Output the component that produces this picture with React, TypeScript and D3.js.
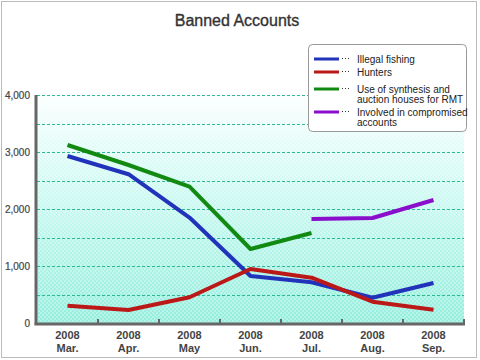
import * as d3 from 'd3';
import React, { useEffect, useRef } from 'react';

const months = ['Mar.', 'Apr.', 'May', 'Jun.', 'Jul.', 'Aug.', 'Sep.'];
const years = ['2008', '2008', '2008', '2008', '2008', '2008', '2008'];

const illegalFishing = [2930, 2610, 1850, 825, 714, 444, 702];
const hunters = [304, 228, 451, 947, 795, 374, 234];
const synthesisRmt = [3123, 2772, 2392, 1298, 1579, null, null];
const compromised = [null, null, null, null, 1825, 1842, 2158];

const yTicks = [0, 1000, 2000, 3000, 4000];
const gridValues = [500, 1000, 1500, 2000, 2500, 3000, 3500, 4000];

const seriesList = [
  { name: ['Illegal fishing'], values: illegalFishing, color: '#2233bb' },
  { name: ['Hunters'], values: hunters, color: '#bb1818' },
  { name: ['Use of synthesis and', 'auction houses for RMT'], values: synthesisRmt, color: '#128a12' },
  { name: ['Involved in compromised', 'accounts'], values: compromised, color: '#8a0fcc' },
];

const App: React.FC = () => {
  const ref = useRef<SVGSVGElement | null>(null);

  useEffect(() => {
    if (!ref.current) return;
    const svg = d3.select(ref.current);
    svg.selectAll('*').remove();

    const left = 37;
    const right = 464;
    const top = 95;
    const bottom = 323;

    const x = d3.scaleBand<string>().domain(months).range([left, right]);
    const y = d3.scaleLinear().domain([0, 4000]).range([bottom, top]);

    const defs = svg.append('defs');
    const grad = defs
      .append('linearGradient')
      .attr('id', 'bg')
      .attr('x1', 0)
      .attr('y1', 0)
      .attr('x2', 0)
      .attr('y2', 1);
    grad.append('stop').attr('offset', '0%').attr('stop-color', '#fbfffe');
    grad.append('stop').attr('offset', '40%').attr('stop-color', '#d0faf3');
    grad.append('stop').attr('offset', '100%').attr('stop-color', '#94eedd');

    const pat = defs
      .append('pattern')
      .attr('id', 'checker')
      .attr('width', 4)
      .attr('height', 4)
      .attr('patternUnits', 'userSpaceOnUse');
    pat.append('rect').attr('width', 2).attr('height', 2).attr('fill', '#ffffff').attr('opacity', 0.3);
    pat.append('rect').attr('x', 2).attr('y', 2).attr('width', 2).attr('height', 2).attr('fill', '#ffffff').attr('opacity', 0.3);

    // outer frame
    svg
      .append('rect')
      .attr('x', 1.5)
      .attr('y', 1.5)
      .attr('width', 475)
      .attr('height', 356)
      .attr('fill', '#fff')
      .attr('stroke', '#bbbbbb');

    svg
      .append('text')
      .attr('x', 237)
      .attr('y', 26)
      .attr('text-anchor', 'middle')
      .attr('font-size', 16)
      .attr('fill', '#333')
      .attr('stroke', '#333')
      .attr('stroke-width', 0.35)
      .text('Banned Accounts');

    // plot background
    svg
      .append('rect')
      .attr('x', left)
      .attr('y', top)
      .attr('width', right - left)
      .attr('height', bottom - top)
      .attr('fill', 'url(#bg)');
    svg
      .append('rect')
      .attr('x', left)
      .attr('y', top)
      .attr('width', right - left)
      .attr('height', bottom - top)
      .attr('fill', 'url(#checker)');

    svg
      .append('g')
      .selectAll('line')
      .data(gridValues)
      .enter()
      .append('line')
      .attr('x1', left)
      .attr('x2', right)
      .attr('y1', (d) => Math.round(y(d)) + 0.5)
      .attr('y2', (d) => Math.round(y(d)) + 0.5)
      .attr('stroke', '#2fb896')
      .attr('stroke-dasharray', '3,2');

    // axes
    svg
      .append('line')
      .attr('x1', left - 1)
      .attr('x2', left - 1)
      .attr('y1', top)
      .attr('y2', bottom + 1.5)
      .attr('stroke', '#666')
      .attr('stroke-width', 3);
    svg
      .append('line')
      .attr('x1', left - 2.5)
      .attr('x2', right + 1)
      .attr('y1', bottom + 1)
      .attr('y2', bottom + 1)
      .attr('stroke', '#666')
      .attr('stroke-width', 3);

    svg
      .append('g')
      .selectAll('line')
      .data(months.slice(1).concat(['end']))
      .enter()
      .append('line')
      .attr('x1', (d) => (d === 'end' ? right : (x(d) as number)))
      .attr('x2', (d) => (d === 'end' ? right : (x(d) as number)))
      .attr('y1', bottom - 4)
      .attr('y2', bottom)
      .attr('stroke', '#666')
      .attr('stroke-width', 2);

    svg
      .append('g')
      .selectAll('text')
      .data(yTicks)
      .enter()
      .append('text')
      .attr('x', 30)
      .attr('y', (d) => y(d) + 4)
      .attr('text-anchor', 'end')
      .attr('font-size', 10)
      .attr('fill', '#444')
      .attr('stroke', '#444')
      .attr('stroke-width', 0.2)
      .text((d) => d3.format(',')(d));

    const xl = svg.append('g');
    months.forEach((m, i) => {
      const cx = (x(m) as number) + x.bandwidth() / 2;
      xl.append('text')
        .attr('x', cx)
        .attr('y', 339)
        .attr('text-anchor', 'middle')
        .attr('font-size', 11)
        .attr('font-weight', 'bold')
        .attr('fill', '#444')
        .text(years[i]);
      xl.append('text')
        .attr('x', cx)
        .attr('y', 352)
        .attr('text-anchor', 'middle')
        .attr('font-size', 11)
        .attr('font-weight', 'bold')
        .attr('fill', '#444')
        .text(m);
    });

    const line = d3
      .line<number | null>()
      .defined((d) => d !== null)
      .x((d, i) => (x(months[i]) as number) + x.bandwidth() / 2)
      .y((d) => y(d as number));

    seriesList.forEach((s) => {
      svg
        .append('path')
        .datum(s.values)
        .attr('fill', 'none')
        .attr('stroke', s.color)
        .attr('stroke-width', 4)
        .attr('stroke-linejoin', 'round')
        .attr('d', line);
    });

    // legend
    const lg = svg.append('g');
    lg.append('rect')
      .attr('x', 308.5)
      .attr('y', 44.5)
      .attr('width', 158)
      .attr('height', 87)
      .attr('rx', 4)
      .attr('fill', '#fff')
      .attr('stroke', '#999');
    const rowY = [59, 72, 89, 112];
    seriesList.forEach((s, i) => {
      const ry = rowY[i];
      lg.append('line')
        .attr('x1', 314)
        .attr('x2', 339)
        .attr('y1', ry)
        .attr('y2', ry)
        .attr('stroke', s.color)
        .attr('stroke-width', 3);
      lg.append('line')
        .attr('x1', 342)
        .attr('x2', 351)
        .attr('y1', ry - 0.5)
        .attr('y2', ry - 0.5)
        .attr('stroke', '#333')
        .attr('stroke-width', 1)
        .attr('stroke-dasharray', '1,2');
      s.name.forEach((t, j) => {
        lg.append('text')
          .attr('x', 357)
          .attr('y', ry + 4 + j * 10)
          .attr('font-size', 10)
          .attr('fill', '#222')
          .text(t);
      });
    });
  }, []);

  return (
    <div style={{ position: 'absolute', left: 0, top: 0 }}>
      <svg
        ref={ref}
        width={480}
        height={360}
        style={{ display: 'block', fontFamily: 'Arial, "Liberation Sans", sans-serif' }}
      />
    </div>
  );
};

export default App;
